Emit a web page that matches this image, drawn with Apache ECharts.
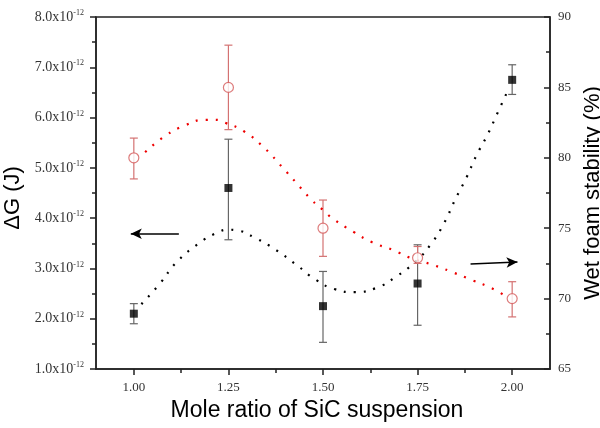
<!DOCTYPE html>
<html>
<head>
<meta charset="utf-8">
<script src="https://cdn.jsdelivr.net/npm/echarts@6/dist/echarts.min.js"></script>
<style>html,body{margin:0;padding:0;background:#fff}#c{width:600px;height:428px}</style>
</head>
<body>
<div id="c"></div>
<script>
// ---- data ----
const xCats = [1.00, 1.25, 1.50, 1.75, 2.00];
const xMinorTicks = [1.125, 1.375, 1.625, 1.875];
// ΔG (x10^-12 J), left axis
const dG = [2.1, 4.6, 2.25, 2.7, 6.75];
const dGLow = [1.9, 3.57, 1.53, 1.87, 6.46];
const dGHigh = [2.3, 5.57, 2.94, 3.47, 7.05];
// Wet foam stability (%), right axis
const wfs = [80.0, 85.0, 75.0, 72.9, 70.0];
const wfsLow = [78.5, 82.0, 73.0, 72.5, 68.7];
const wfsHigh = [81.4, 88.0, 77.0, 73.7, 71.2];
// dotted fit curves
const dGFitX = [1.02,1.07,1.11,1.17,1.22,1.25,1.27,1.32,1.375,1.43,1.48,1.53,1.585,1.64,1.69,1.745,1.785,1.82,1.85,1.88,1.905,1.935,1.96,1.985];
const dGFitY = [2.29,2.71,3.10,3.49,3.71,3.77,3.76,3.61,3.37,3.07,2.78,2.59,2.53,2.61,2.82,3.14,3.48,3.90,4.38,4.82,5.24,5.66,6.07,6.48];
const wfsFitX = [1.03,1.08,1.135,1.19,1.215,1.24,1.29,1.345,1.395,1.445,1.47,1.5,1.525,1.58,1.63,1.685,1.735,1.79,1.84,1.895,1.945,1.975];
const wfsFitY = [80.4,81.5,82.3,82.7,82.7,82.5,81.9,80.7,79.25,77.75,77.0,76.3,75.7,74.75,74.0,73.45,72.85,72.4,71.9,71.3,70.75,70.3];
// annotation arrows (data coordinates)
const leftArrow = [[1.119, 3.69], [0.992, 3.69]];
const rightArrow = [[1.89, 72.45], [2.014, 72.6]];
// axis settings
const leftTicks = {min: 1, max: 8, interval: 1};
const rightTicks = {min: 65, max: 90, interval: 5};
const xRange = {min: 0.9, max: 2.1};

const zip = (a, b) => a.map((v, i) => [v, b[i]]);
const zip3 = (a, b, c) => a.map((v, i) => [v, b[i], c[i]]);

function errRender(color) {
  return function (params, api) {
    const x = api.value(0), lo = api.value(1), hi = api.value(2);
    const p1 = api.coord([x, hi]), p2 = api.coord([x, lo]);
    const w = 4;
    const st = {stroke: color, lineWidth: 1.2};
    return {type: 'group', children: [
      {type: 'line', shape: {x1: p1[0], y1: p1[1], x2: p2[0], y2: p2[1]}, style: st},
      {type: 'line', shape: {x1: p1[0] - w, y1: p1[1], x2: p1[0] + w, y2: p1[1]}, style: st},
      {type: 'line', shape: {x1: p2[0] - w, y1: p2[1], x2: p2[0] + w, y2: p2[1]}, style: st}
    ]};
  };
}

const serif = 'Liberation Serif';
const sans = 'Liberation Sans';
const chart = echarts.init(document.getElementById('c'));
chart.setOption({
  animation: false,
  backgroundColor: '#fff',
  grid: {left: 96, right: 50, top: 17, bottom: 59, containLabel: false, outerBoundsMode: 'none',
         show: true, borderColor: '#222', borderWidth: 1.5, backgroundColor: 'transparent'},
  xAxis: [{
    type: 'value', min: xRange.min, max: xRange.max,
    name: 'Mole ratio of SiC suspension', nameLocation: 'middle', nameGap: 29,
    nameTextStyle: {fontFamily: sans, fontSize: 23, color: '#000', padding: [0, 12, 0, 0]},
    axisLine: {show: true, onZero: false, lineStyle: {color: '#222', width: 1.5}},
    axisTick: {show: true, length: 6, customValues: xCats, lineStyle: {color: '#222', width: 1.5}},
    axisLabel: {customValues: xCats, margin: 12, fontFamily: serif, fontSize: 13, color: '#333', formatter: v => v.toFixed(2)},
    splitLine: {show: false}
  }, {
    type: 'value', min: xRange.min, max: xRange.max, position: 'bottom',
    axisLine: {show: false},
    axisTick: {show: true, length: 4, customValues: xMinorTicks, lineStyle: {color: '#222', width: 1.5}},
    axisLabel: {show: false},
    splitLine: {show: false}
  }],
  yAxis: [{
    type: 'value', min: leftTicks.min, max: leftTicks.max, interval: leftTicks.interval, position: 'left',
    name: 'ΔG (J)', nameLocation: 'middle', nameRotate: 90, nameGap: 68,
    nameTextStyle: {fontFamily: sans, fontSize: 22, color: '#000', padding: [0, 10, 0, 0]},
    axisLine: {show: true, onZero: false, lineStyle: {color: '#222', width: 1.5}},
    axisTick: {show: true, length: 6, lineStyle: {color: '#222', width: 1.5}},
    minorTick: {show: true, splitNumber: 2, length: 4, lineStyle: {color: '#222', width: 1.5}},
    axisLabel: {
      margin: 12, color: '#333',
      formatter: v => '{b|' + v.toFixed(1) + 'x10}{s|-12}',
      rich: {
        b: {fontFamily: serif, fontSize: 14, color: '#333', lineHeight: 16},
        s: {fontFamily: serif, fontSize: 8, color: '#333', verticalAlign: 'top', lineHeight: 10}
      }
    },
    splitLine: {show: false}
  }, {
    type: 'value', min: rightTicks.min, max: rightTicks.max, interval: rightTicks.interval, position: 'right',
    name: 'Wet foam stability (%)', nameLocation: 'middle', nameRotate: 90, nameGap: 28,
    nameTextStyle: {fontFamily: sans, fontSize: 22, color: '#000'},
    axisLine: {show: true, onZero: false, lineStyle: {color: '#222', width: 1.5}},
    axisTick: {show: true, inside: true, length: 6, lineStyle: {color: '#222', width: 1.5}},
    minorTick: {show: true, splitNumber: 2, length: 4, lineStyle: {color: '#222', width: 1.5}},
    axisLabel: {margin: 8, fontFamily: serif, fontSize: 13, color: '#333'},
    splitLine: {show: false}
  }],
  series: [
    {type: 'custom', name: 'dG err', xAxisIndex: 0, yAxisIndex: 0, z: 2, renderItem: errRender('#666'),
     encode: {x: 0, y: [1, 2]}, data: zip3(xCats, dGLow, dGHigh)},
    {type: 'custom', name: 'wfs err', xAxisIndex: 0, yAxisIndex: 1, z: 2, renderItem: errRender('#d47272'),
     encode: {x: 0, y: [1, 2]}, data: zip3(xCats, wfsLow, wfsHigh)},
    {type: 'line', name: 'dG fit', xAxisIndex: 0, yAxisIndex: 0, z: 3, smooth: true, showSymbol: false, symbol: 'none',
     lineStyle: {color: '#000', width: 2.2, type: [2, 8]}, data: zip(dGFitX, dGFitY)},
    {type: 'line', name: 'wfs fit', xAxisIndex: 0, yAxisIndex: 1, z: 3, smooth: true, showSymbol: false, symbol: 'none',
     lineStyle: {color: '#ee0000', width: 2.2, type: [2, 8]}, data: zip(wfsFitX, wfsFitY)},
    {type: 'scatter', name: 'dG', xAxisIndex: 0, yAxisIndex: 0, z: 4, symbol: 'rect', symbolSize: 8,
     itemStyle: {color: '#000'}, data: zip(xCats, dG),
     markLine: {silent: true, symbol: ['none', 'arrow'], symbolSize: [8, 11], label: {show: false},
       lineStyle: {color: '#000', width: 1.5, type: 'solid'},
       data: [[{coord: leftArrow[0]}, {coord: leftArrow[1]}]]}},
    {type: 'scatter', name: 'wfs', xAxisIndex: 0, yAxisIndex: 1, z: 5, symbol: 'circle', symbolSize: 10,
     itemStyle: {color: '#fff', borderColor: '#d45a5a', borderWidth: 1.2}, data: zip(xCats, wfs),
     markLine: {silent: true, symbol: ['none', 'arrow'], symbolSize: [8, 11], label: {show: false},
       lineStyle: {color: '#000', width: 1.5, type: 'solid'},
       data: [[{coord: rightArrow[0]}, {coord: rightArrow[1]}]]}}
  ]
});
</script>
</body>
</html>
